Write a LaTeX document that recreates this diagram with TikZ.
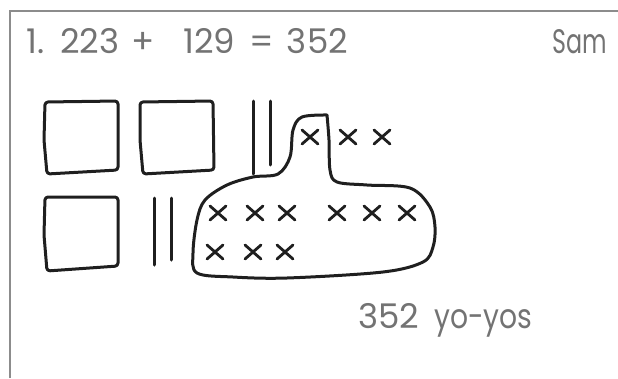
\documentclass[tikz,border=0pt]{standalone}
\usepackage{fontspec}
\setmainfont{Poppins}
\begin{document}
\begin{tikzpicture}[x=1pt, y=-1pt,
  every node/.style={font=\fontsize{34}{38}\selectfont, text=black!55, inner sep=0pt},
  frame/.style={draw=black!45, line width=1.6pt},
  ink/.style={draw=black!88, line width=3pt, line join=round, line cap=round},
  ex/.pic={\draw[ink, line width=2.8pt] (-8,-7) -- (8,7) (-8,7) -- (8,-7);}
]
  \useasboundingbox (0,0) rectangle (618,378);
  \draw[frame] (10,378) -- (10,11) -- (618,11);

  \node[anchor=base west] (sum) at (26,53)
    {1.\hspace{16pt}223\hspace{12pt}+\hspace{29pt}129\hspace{14pt}=\hspace{13pt}352};
  \node[anchor=base east] (name) at (607,53) {\scalebox{0.7}[1]{Sam}};
  \node[anchor=base west] (answer) at (358,328)
    {352\hspace{15pt}\scalebox{0.83}[1]{yo-yos}};

  % hundreds
  \draw[ink, rounded corners=3pt] (45,102) -- (118,101) -- (118,170) -- (47,174) -- (44,140) -- cycle;
  \draw[ink, rounded corners=3pt] (140,102) -- (213,101) -- (214,170) -- (143,174) -- (140,140) -- cycle;
  \draw[ink, rounded corners=3pt] (45,197) -- (118,197) -- (118,266) -- (47,271) -- (44,235) -- cycle;

  % tens
  \draw[ink] (253,101) -- (253,174);
  \draw[ink] (270,101) -- (270,165);
  \draw[ink] (154,198) -- (154,265);
  \draw[ink] (171,198) -- (171,260);

  % ones
  \foreach \x in {310,348,382} \pic at (\x,137) {ex};
  \foreach \x in {218,255,287,337,372,407} \pic at (\x,213) {ex};
  \foreach \x in {215,253,285} \pic at (\x,252) {ex};

  % regrouping loop
  \draw[ink] plot[smooth, tension=0.55] coordinates {
    (327,115) (329,140) (330,170) (337,182) (367,185) (410,188)
    (430,207) (435,227) (433,247) (423,262) (383,272) (287,278)
    (233,277) (197,273) (193,253) (197,220) (205,200) (227,185)
    (253,177) (278,174) (290,157) (293,130) (302,117) (327,115)};
\end{tikzpicture}
\end{document}
